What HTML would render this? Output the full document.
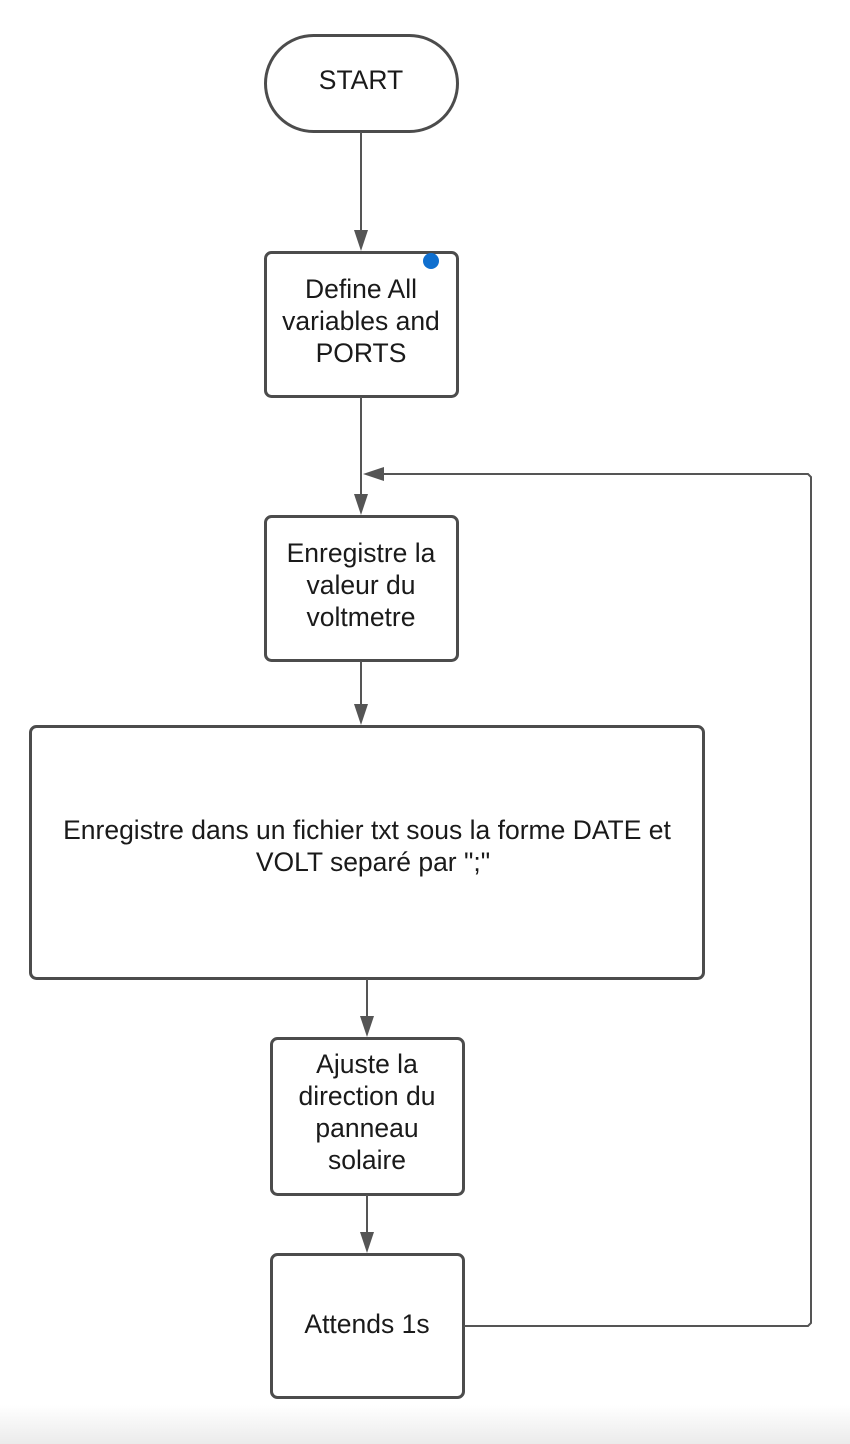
<!DOCTYPE html>
<html><head><meta charset="utf-8"><style>
html,body{margin:0;padding:0;background:#fff;}
svg{display:block;}
text{font-family:"Liberation Sans",sans-serif;font-size:26.5px;fill:#1a1a1a;text-anchor:middle;}
</style></head><body>
<svg width="850" height="1444" viewBox="0 0 850 1444" xmlns="http://www.w3.org/2000/svg">
<defs>
<linearGradient id="g" x1="0" y1="0" x2="0" y2="1">
<stop offset="0" stop-color="#ffffff"/><stop offset="1" stop-color="#ebebeb"/>
</linearGradient>
</defs>
<rect x="0" y="1405" width="850" height="39" fill="url(#g)"/>
<g fill="#fff" stroke="#4c4c4c" stroke-width="3">
<rect x="265.5" y="35.5" width="192" height="96" rx="48" ry="48"/>
<rect x="265.5" y="252.5" width="192" height="144" rx="6"/>
<rect x="265.5" y="516.5" width="192" height="144" rx="6"/>
<rect x="30.5" y="726.5" width="673" height="252" rx="6"/>
<rect x="271.5" y="1038.5" width="192" height="156" rx="6"/>
<rect x="271.5" y="1254.5" width="192" height="143" rx="6"/>
</g>
<circle cx="431" cy="261" r="8" fill="#0f6fcf"/>
<g stroke="#555" stroke-width="2" fill="none">
<line x1="361" y1="132" x2="361" y2="232"/>
<line x1="361" y1="397" x2="361" y2="496"/>
<line x1="361" y1="661" x2="361" y2="706"/>
<line x1="367" y1="979" x2="367" y2="1018"/>
<line x1="367" y1="1195" x2="367" y2="1234"/>
<polyline points="464,1326 808,1326 811,1323 811,477 808,474 382,474"/>
</g>
<g fill="#555">
<polygon points="354,230 368,230 361,251"/>
<polygon points="354,494 368,494 361,515"/>
<polygon points="354,704 368,704 361,725"/>
<polygon points="360,1016 374,1016 367,1037"/>
<polygon points="360,1232 374,1232 367,1253"/>
<polygon points="384,467 384,481 363,474"/>
</g>
<text x="361" y="89">START</text>
<text x="361" y="298">Define All</text>
<text x="361" y="330">variables and</text>
<text x="361" y="362">PORTS</text>
<text x="361" y="562">Enregistre la</text>
<text x="361" y="594">valeur du</text>
<text x="361" y="626">voltmetre</text>
<text x="367" y="839">Enregistre dans un fichier txt sous la forme DATE et</text>
<text x="373" y="871">VOLT separé par ";"</text>
<text x="367" y="1073">Ajuste la</text>
<text x="367" y="1105">direction du</text>
<text x="367" y="1137">panneau</text>
<text x="367" y="1169">solaire</text>
<text x="367" y="1333">Attends 1s</text>
</svg>
</body></html>
